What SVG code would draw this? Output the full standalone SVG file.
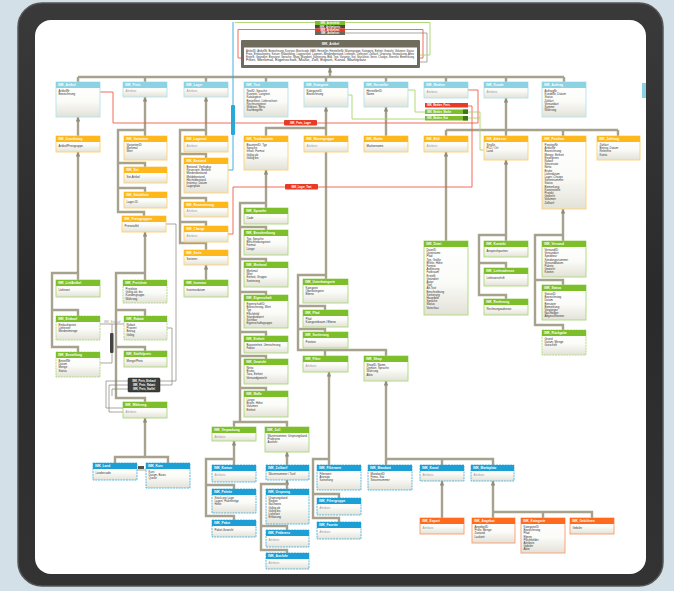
<svg xmlns="http://www.w3.org/2000/svg" width="674" height="591" viewBox="0 0 674 591">
<defs>
<linearGradient id="gr" x1="0" y1="0" x2="0" y2="1"><stop offset="0" stop-color="#ffffff"/><stop offset="0.55" stop-color="#fbfbf8"/><stop offset="1" stop-color="#e3e2d8"/></linearGradient>
<linearGradient id="bz" x1="0" y1="0" x2="0" y2="1"><stop offset="0" stop-color="#3a3a3a"/><stop offset="0.5" stop-color="#2a2a2a"/><stop offset="1" stop-color="#333333"/></linearGradient>
<marker id="ar" viewBox="0 0 6 6" refX="6" refY="3" markerUnits="userSpaceOnUse" markerWidth="4.5" markerHeight="4.5" orient="auto-start-reverse"><path d="M0,0 L6,3 L0,6 z" fill="#8f8b78"/></marker>
<style>
.c{fill:none;stroke:#a6a28e;stroke-width:2.4}
.a{marker-start:url(#ar)}
.k{fill:none;stroke:#85837a;stroke-width:0.7}
.r{fill:none;stroke:#f25c45;stroke-width:0.9}
.gl{fill:none;stroke:#a8d46a;stroke-width:0.9}
.cl{fill:none;stroke:#2aa8dc;stroke-width:0.9}
.b{fill:url(#gr);stroke-width:0.9}
.cy .b{stroke:#b4e2ec}.cy .h{fill:#8bd3e3}
.or .b{stroke:#ffd070}.or .h{fill:#ffb81c}
.gn .b{stroke:#acd878}.gn .h{fill:#7cbf2a}
.bl .b{stroke:#4fb2dc;stroke-dasharray:2 0.8}.bl .h{fill:#1b9fd5}
.rd .b{stroke:#ff9a6a}.rd .h{fill:#ff6a1c}
.t{font-family:"Liberation Sans",Arial,sans-serif;font-size:3.2px;font-weight:bold;fill:#fff}
.l{font-family:"Liberation Sans",Arial,sans-serif;font-size:2.9px;fill:#333}
.g{fill:#9a9a9a}
.p{font-family:"Liberation Sans",Arial,sans-serif;font-size:2.6px;font-weight:bold;fill:#fff}
</style>
</defs>
<rect x="0" y="0" width="674" height="591" fill="#d4e0e7"/>
<rect x="18" y="3" width="645" height="583" rx="24" fill="url(#bz)" stroke="#555" stroke-width="1.5"/>
<rect x="35" y="20" width="611" height="554" rx="16" fill="#ffffff"/>

<g id="connectors">
<path class="c a" d="M330 68 V77"/>
<path class="c" d="M78 77 H564 M78 77 V82 M145 77 V82 M206 77 V82 M266 77 V82 M326 77 V82 M386 77 V82 M446 77 V82 M506 77 V82 M564 77 V82"/>
<path class="c a" d="M78 117 V136"/>
<path class="c a" d="M78 152 V280"/>
<path class="c" d="M78 273 H52 V347 H78 V352 M52 310 H78 V316"/>
<path class="c a" d="M145 97 V136"/>
<path class="c" d="M145 130 H118 V212 H144 V216 M118 163 H145 V167 M118 188 H145 V192"/>
<path class="c a" d="M145 232 V280"/>
<path class="c" d="M145 273 H116 V398 H145 V402 M116 310 H145 V316 M116 347 H145 V351"/>
<path class="c a" d="M145 418 V457"/>
<path class="c" d="M115 463 V457 H168 V463"/>
<path class="c a" d="M206 97 V136"/>
<path class="c" d="M206 130 H180 V243 H206 V250 M180 154 H206 V158 M180 198 H206 V202 M180 222 H206 V226"/>
<path class="c a" d="M206 265 V280"/>
<path class="c a" d="M326 107 V279"/>
<path class="c" d="M326 128 H266 V136"/>
<path class="c a" d="M266 170 V208"/>
<path class="c" d="M266 203 H240 V422 M240 227 H266 V230 M240 259 H266 V262 M240 292 H266 V295 M240 332 H266 V336 M240 356 H266 V359 M240 388 H266 V391 M234 427 V422 H287 V427"/>
<path class="c a" d="M234 441 V465"/>
<path class="c" d="M234 459 H206 V516 H234 V520 M206 485 H234 V489"/>
<path class="c a" d="M287 452 V465"/>
<path class="c a" d="M287 480 V489"/>
<path class="c" d="M287 484 H261 V550 H287 V553 M261 526 H287 V530"/>
<path class="c" d="M326 275 H298 V350 H386 V356 M298 306 H325 V310 M298 329 H325 V332 M325 350 V356"/>
<path class="c a" d="M329 372 V465"/>
<path class="c" d="M329 459 H313 V518 H339 V522 M313 494 H339 V498"/>
<path class="c a" d="M386 381 V465"/>
<path class="c" d="M386 459 H493 V465 M442 459 V465"/>
<path class="c a" d="M442 481 V518"/>
<path class="c a" d="M493 481 V518"/>
<path class="c" d="M493 512 H592 V518 M543 512 V518"/>
<path class="c a" d="M386 107 V136"/>
<path class="c a" d="M446 152 V241"/>
<path class="c a" d="M506 98 V136"/>
<path class="c" d="M446 130 H618 M446 130 V136 M563 130 V136 M618 130 V136"/>
<path class="c a" d="M506 160 V241"/>
<path class="c" d="M506 235 H479 V295 H506 V299 M479 263 H506 V268"/>
<path class="c a" d="M563 209 V241"/>
<path class="c" d="M563 235 H535 V325 H563 V330 M535 280 H563 V285"/>

<path class="r" d="M100 92 H113 V123 H478 V90 H468"/>
<path class="r" d="M228 234 H233 V187 H472 V106 H468"/>
<path class="r" d="M315 29.5 H238 V58 H241 M345 29.5 H423 V58 H420"/>
<path class="k" d="M345 33 H427 V62 H420"/>
<path class="gl" d="M315 22.5 H235 M345 22.5 H430 V55 H420"/>
<path class="gl" d="M348 95 H352 V119 H425"/>
<path class="gl" d="M408 90 H415 V112 H425"/>
<path class="gl" d="M468 112 H480 V150 H484 M468 118 H480"/>
<path class="cl" d="M233 22 V170 H228"/>
<path class="k" d="M100 324 H124 M100 363 H112 V353 M112 333 V324"/>
<path class="k" d="M166 224 H176 V381 H160 M167 328 H172 V385 H160"/>
<path class="k" d="M128 381 H106 V408 H123 M128 385 H109 V412 H123 M128 389 H112 V396"/>
<path class="k" d="M137 470 H146"/>
</g>

<g id="pills">
<rect x="231" y="105" width="4" height="30" rx="1" fill="#2aa8d8"/>
<rect x="284" y="120" width="33" height="5.5" rx="1" fill="#e83a25"/><text class="p" x="300.5" y="123.8" text-anchor="middle">IMK_Preis_Lager</text>
<rect x="285" y="184" width="33" height="5.5" rx="1" fill="#e83a25"/><text class="p" x="301.5" y="187.8" text-anchor="middle">IMK_Lager_Text</text>
<rect x="425" y="103" width="43" height="4.5" fill="#e83a25"/><text class="p" x="427" y="106.2">IMK_Medien_Preis</text>
<rect x="425" y="109.5" width="43" height="4.5" fill="#7cbf2a"/><rect x="463" y="109.5" width="5" height="4.5" fill="#3d7a12"/><text class="p" x="427" y="112.7">IMK_Medien_Marke</text>
<rect x="425" y="116" width="43" height="4.5" fill="#7cbf2a"/><rect x="463" y="116" width="5" height="4.5" fill="#3d7a12"/><text class="p" x="427" y="119.2">IMK_Medien_Kat</text>
<rect x="110" y="333" width="3.5" height="20" rx="1" fill="#444"/>
<text class="l g" x="104" y="323" font-size="2.4px">IMK_Einkauf</text>
<rect x="138" y="466" width="6" height="3" fill="#555"/>
</g>

<g id="nTop">
<rect x="315" y="21" width="30" height="4" fill="#7cbf2a"/><text class="p" x="330" y="24" text-anchor="middle">IMK_Artikelbild</text>
<rect x="315" y="25" width="30" height="3.5" fill="#4a4a40"/><text class="p" x="330" y="27.7" text-anchor="middle">IMK_Artikelpreis</text>
<rect x="315" y="28.5" width="30" height="3.5" fill="#e63a22"/><text class="p" x="330" y="31.2" text-anchor="middle">IMK_Artikeltext</text>
<rect x="315" y="32" width="30" height="3" fill="#6b675a"/><text class="p" x="330" y="34.4" text-anchor="middle">IMK_Artikelset</text>
</g>

<g id="nMain">
<rect x="241" y="40" width="179" height="28" rx="1" fill="#6f6b5d"/>
<text class="t" x="330.5" y="45.2" text-anchor="middle">IMK_Artikel</text>
<rect x="244" y="47.5" width="173" height="17.5" fill="#ffffff"/>
<text class="l" x="246" y="51.5" textLength="168" lengthAdjust="spacingAndGlyphs">ArtikelID, ArtikelNr, Bezeichnung, Kurztext, Matchcode, EAN, Hersteller, HerstellerNr, Warengruppe, Kategorie, Einheit, Gewicht, Volumen, Status</text>
<text class="l" x="246" y="54.8" textLength="168" lengthAdjust="spacingAndGlyphs">Preis, Einkaufspreis, Steuer, Rabattfähig, Lagerartikel, Lagerort, Mindestbestand, Lieferant, Lieferzeit, Zolltarif, Ursprung, Verpackung, Aktiv</text>
<text class="l" x="246" y="58.1" textLength="168" lengthAdjust="spacingAndGlyphs">Erstellt, Geändert, Benutzer, Sprache, Shop, Mandant, Sortierung, Bild, Text, Variante, Set, Stückliste, Serie, Charge, Inventur, Bemerkung</text>
<text class="l" x="246" y="61.4" textLength="120" lengthAdjust="spacingAndGlyphs">Filter, Merkmal, Eigenschaft, Maße, Zoll, Export, Kanal, Marktplatz</text>
</g>

<g id="nA" class="cy"><rect class="b" x="56" y="82" width="44" height="35"/><rect class="h" x="56" y="82" width="44" height="6"/><text class="t" x="58" y="86.4">IMK_Artikel</text><text class="l" x="58.5" y="92">ArtikelNr<tspan x="58.5" dy="3.2">Bezeichnung</tspan></text></g>
<g id="nB" class="cy"><rect class="b" x="123" y="82" width="44" height="15"/><rect class="h" x="123" y="82" width="44" height="6"/><text class="t" x="125" y="86.4">IMK_Preis</text><text class="l g" x="125.5" y="92">Attribute</text></g>
<g id="nC" class="cy"><rect class="b" x="184" y="82" width="44" height="15"/><rect class="h" x="184" y="82" width="44" height="6"/><text class="t" x="186" y="86.4">IMK_Lager</text><text class="l g" x="186.5" y="92">Attribute</text></g>
<g id="nD" class="cy"><rect class="b" x="244" y="82" width="44" height="35"/><rect class="h" x="244" y="82" width="44" height="6"/><text class="t" x="246" y="86.4">IMK_Text</text><text class="l" x="246.5" y="92">TextID, Sprache<tspan x="246.5" dy="3.2">Kurztext, Langtext</tspan><tspan x="246.5" dy="3.2">Katalogtext</tspan><tspan x="246.5" dy="3.2">Bestelltext, Lieferschein</tspan><tspan x="246.5" dy="3.2">Rechnungstext</tspan><tspan x="246.5" dy="3.2">Webtext, Meta</tspan><tspan x="246.5" dy="3.2">Suchbegriffe</tspan></text></g>
<g id="nE" class="cy"><rect class="b" x="304" y="82" width="44" height="25"/><rect class="h" x="304" y="82" width="44" height="6"/><text class="t" x="306" y="86.4">IMK_Kategorie</text><text class="l" x="306.5" y="92">KategorieID<tspan x="306.5" dy="3.2">Bezeichnung</tspan></text></g>
<g id="nF" class="cy"><rect class="b" x="364" y="82" width="44" height="25"/><rect class="h" x="364" y="82" width="44" height="6"/><text class="t" x="366" y="86.4">IMK_Hersteller</text><text class="l" x="366.5" y="92">HerstellerID<tspan x="366.5" dy="3.2">Name</tspan></text></g>
<g id="nG" class="cy"><rect class="b" x="424" y="82" width="44" height="16"/><rect class="h" x="424" y="82" width="44" height="6"/><text class="t" x="426" y="86.4">IMK_Medien</text><text class="l g" x="426.5" y="92.5">Attribute</text></g>
<g id="nH" class="cy"><rect class="b" x="484" y="82" width="44" height="16"/><rect class="h" x="484" y="82" width="44" height="6"/><text class="t" x="486" y="86.4">IMK_Kunde</text><text class="l g" x="486.5" y="92.5">Attribute</text></g>
<g id="nI" class="cy"><rect class="b" x="542" y="82" width="44" height="35"/><rect class="h" x="542" y="82" width="44" height="6"/><text class="t" x="544" y="86.4">IMK_Auftrag</text><text class="l" x="544.5" y="92">AuftragNr<tspan x="544.5" dy="3.2">KundeNr, Datum</tspan><tspan x="544.5" dy="3.2">Status</tspan><tspan x="544.5" dy="3.2">Zahlart</tspan><tspan x="544.5" dy="3.2">Versandart</tspan><tspan x="544.5" dy="3.2">Summe</tspan><tspan x="544.5" dy="3.2">Währung</tspan></text></g>
<g id="nJ" class="cy"><rect class="h" x="642" y="83" width="4" height="15"/></g>

<g id="nA2" class="or"><rect class="b" x="56" y="136" width="44" height="16"/><rect class="h" x="56" y="136" width="44" height="6"/><text class="t" x="58" y="140.4">IMK_Zuordnung</text><text class="l" x="58.5" y="146.5">Artikel/Preisgruppe</text></g>
<g id="nB2" class="or"><rect class="b" x="124" y="136" width="43" height="24"/><rect class="h" x="124" y="136" width="43" height="6"/><text class="t" x="126" y="140.4">IMK_Varianten</text><text class="l" x="126.5" y="146">VariantenID<tspan x="126.5" dy="3.2">Merkmal</tspan><tspan x="126.5" dy="3.2">Wert</tspan></text></g>
<g id="nB3" class="or"><rect class="b" x="124" y="167" width="43" height="16"/><rect class="h" x="124" y="167" width="43" height="6"/><text class="t" x="126" y="171.4">IMK_Set</text><text class="l" x="126.5" y="177.5">Set-Artikel</text></g>
<g id="nB4" class="or"><rect class="b" x="124" y="192" width="43" height="16"/><rect class="h" x="124" y="192" width="43" height="6"/><text class="t" x="126" y="196.4">IMK_Stückliste</text><text class="l" x="126.5" y="202.5">Lager-ID</text></g>
<g id="nB5" class="or"><rect class="b" x="122" y="216" width="44" height="16"/><rect class="h" x="122" y="216" width="44" height="6"/><text class="t" x="124" y="220.4">IMK_Preisgruppen</text><text class="l" x="124.5" y="226.5">Preisstaffel</text></g>
<g id="nC2" class="or"><rect class="b" x="184" y="136" width="44" height="16"/><rect class="h" x="184" y="136" width="44" height="6"/><text class="t" x="186" y="140.4">IMK_Lagerort</text><text class="l g" x="186.5" y="146.5">Attribute</text></g>
<g id="nC3" class="or"><rect class="b" x="184" y="158" width="44" height="35"/><rect class="h" x="184" y="158" width="44" height="6"/><text class="t" x="186" y="162.4">IMK_Bestand</text><text class="l" x="186.5" y="168">Bestand, Verfügbar<tspan x="186.5" dy="3.2">Reserviert, Bestellt</tspan><tspan x="186.5" dy="3.2">Mindestbestand</tspan><tspan x="186.5" dy="3.2">Meldebestand</tspan><tspan x="186.5" dy="3.2">Höchstbestand</tspan><tspan x="186.5" dy="3.2">Inventur, Datum</tspan><tspan x="186.5" dy="3.2">Lagerplatz</tspan></text></g>
<g id="nC4" class="or"><rect class="b" x="184" y="202" width="44" height="15"/><rect class="h" x="184" y="202" width="44" height="6"/><text class="t" x="186" y="206.4">IMK_Reservierung</text><text class="l g" x="186.5" y="212.3">Attribute</text></g>
<g id="nC5" class="or"><rect class="b" x="184" y="226" width="44" height="16"/><rect class="h" x="184" y="226" width="44" height="6"/><text class="t" x="186" y="230.4">IMK_Charge</text><text class="l g" x="186.5" y="236.5">Attribute</text></g>
<g id="nC6" class="or"><rect class="b" x="184" y="250" width="44" height="15"/><rect class="h" x="184" y="250" width="44" height="6"/><text class="t" x="186" y="254.4">IMK_Serie</text><text class="l" x="186.5" y="260.3">Seriennr</text></g>
<g id="nD2" class="or"><rect class="b" x="244" y="136" width="44" height="34"/><rect class="h" x="244" y="136" width="44" height="6"/><text class="t" x="246" y="140.4">IMK_Textbaustein</text><text class="l" x="246.5" y="146">BausteinID, Typ<tspan x="246.5" dy="3.2">Sprache</tspan><tspan x="246.5" dy="3.2">Inhalt, Format</tspan><tspan x="246.5" dy="3.2">Gültig ab</tspan><tspan x="246.5" dy="3.2">Gültig bis</tspan></text></g>
<g id="nE2" class="or"><rect class="b" x="304" y="136" width="44" height="16"/><rect class="h" x="304" y="136" width="44" height="6"/><text class="t" x="306" y="140.4">IMK_Warengruppe</text><text class="l g" x="306.5" y="146.5">Attribute</text></g>
<g id="nF2" class="or"><rect class="b" x="364" y="136" width="44" height="16"/><rect class="h" x="364" y="136" width="44" height="6"/><text class="t" x="366" y="140.4">IMK_Marke</text><text class="l" x="366.5" y="146.5">Markenname</text></g>
<g id="nG2" class="or"><rect class="b" x="424" y="136" width="44" height="16"/><rect class="h" x="424" y="136" width="44" height="6"/><text class="t" x="426" y="140.4">IMK_Bild</text><text class="l g" x="426.5" y="146.5">Attribute</text></g>
<g id="nH2" class="or"><rect class="b" x="484" y="136" width="44" height="24"/><rect class="h" x="484" y="136" width="44" height="6"/><text class="t" x="486" y="140.4">IMK_Adresse</text><text class="l" x="486.5" y="146">Straße<tspan x="486.5" dy="3.2">PLZ / Ort</tspan><tspan x="486.5" dy="3.2">Land</tspan></text></g>
<g id="nI2" class="or"><rect class="b" x="542" y="136" width="44" height="73"/><rect class="h" x="542" y="136" width="44" height="6"/><text class="t" x="544" y="140.4">IMK_Position</text><text class="l" x="544.5" y="146">PositionNr<tspan x="544.5" dy="3.2">ArtikelNr</tspan><tspan x="544.5" dy="3.2">Bezeichnung</tspan><tspan x="544.5" dy="3.2">Menge, Einheit</tspan><tspan x="544.5" dy="3.2">Einzelpreis</tspan><tspan x="544.5" dy="3.2">Rabatt</tspan><tspan x="544.5" dy="3.2">Steuersatz</tspan><tspan x="544.5" dy="3.2">Netto</tspan><tspan x="544.5" dy="3.2">Brutto</tspan><tspan x="544.5" dy="3.2">Lieferdatum</tspan><tspan x="544.5" dy="3.2">Lager, Charge</tspan><tspan x="544.5" dy="3.2">Seriennummer</tspan><tspan x="544.5" dy="3.2">Status</tspan><tspan x="544.5" dy="3.2">Bemerkung</tspan><tspan x="544.5" dy="3.2">Kostenstelle</tspan><tspan x="544.5" dy="3.2">Projekt</tspan><tspan x="544.5" dy="3.2">Gewicht</tspan><tspan x="544.5" dy="3.2">Volumen</tspan><tspan x="544.5" dy="3.2">Zolltarif</tspan></text></g>
<g id="nK2" class="or"><rect class="b" x="597" y="136" width="43" height="24"/><rect class="h" x="597" y="136" width="43" height="6"/><text class="t" x="599" y="140.4">IMK_Zahlung</text><text class="l" x="599.5" y="146">Zahlart<tspan x="599.5" dy="3.2">Betrag, Datum</tspan><tspan x="599.5" dy="3.2">Referenz</tspan><tspan x="599.5" dy="3.2">Konto</tspan></text></g>

<g id="nC7" class="gn"><rect class="b" x="184" y="280" width="44" height="17"/><rect class="h" x="184" y="280" width="44" height="6"/><text class="t" x="186" y="284.4">IMK_Inventur</text><text class="l" x="186.5" y="290.5">Inventurdatum</text></g>
<g id="nD3" class="gn"><rect class="b" x="244" y="208" width="44" height="16"/><rect class="h" x="244" y="208" width="44" height="6"/><text class="t" x="246" y="212.4">IMK_Sprache</text><text class="l" x="246.5" y="218.5">Code</text></g>
<g id="nD4" class="gn"><rect class="b" x="244" y="230" width="44" height="25"/><rect class="h" x="244" y="230" width="44" height="6"/><text class="t" x="246" y="234.4">IMK_Beschreibung</text><text class="l" x="246.5" y="240">Typ, Sprache<tspan x="246.5" dy="3.2">Beschreibungstext</tspan><tspan x="246.5" dy="3.2">Format</tspan><tspan x="246.5" dy="3.2">Länge</tspan></text></g>
<g id="nD5" class="gn"><rect class="b" x="244" y="262" width="44" height="25"/><rect class="h" x="244" y="262" width="44" height="6"/><text class="t" x="246" y="266.4">IMK_Merkmal</text><text class="l" x="246.5" y="272">Merkmal<tspan x="246.5" dy="3.2">Wert</tspan><tspan x="246.5" dy="3.2">Einheit, Gruppe</tspan><tspan x="246.5" dy="3.2">Sortierung</tspan></text></g>
<g id="nD6" class="gn"><rect class="b" x="244" y="295" width="44" height="33"/><rect class="h" x="244" y="295" width="44" height="6"/><text class="t" x="246" y="299.4">IMK_Eigenschaft</text><text class="l" x="246.5" y="305">EigenschaftID<tspan x="246.5" dy="3.2">Bezeichnung, Wert</tspan><tspan x="246.5" dy="3.2">Typ</tspan><tspan x="246.5" dy="3.2">Pflichtfeld</tspan><tspan x="246.5" dy="3.2">Standardwert</tspan><tspan x="246.5" dy="3.2">Sichtbar</tspan><tspan x="246.5" dy="3.2">Eigenschaftsgruppe</tspan></text></g>
<g id="nD7" class="gn"><rect class="b" x="244" y="336" width="44" height="17"/><rect class="h" x="244" y="336" width="44" height="6"/><text class="t" x="246" y="340.4">IMK_Einheit</text><text class="l" x="246.5" y="346">Basiseinheit, Umrechnung<tspan x="246.5" dy="3.2">Faktor</tspan></text></g>
<g id="nD8" class="gn"><rect class="b" x="244" y="359" width="44" height="25"/><rect class="h" x="244" y="359" width="44" height="6"/><text class="t" x="246" y="363.4">IMK_Gewicht</text><text class="l" x="246.5" y="369">Netto<tspan x="246.5" dy="3.2">Brutto</tspan><tspan x="246.5" dy="3.2">Tara, Einheit</tspan><tspan x="246.5" dy="3.2">Versandgewicht</tspan></text></g>
<g id="nD9" class="gn"><rect class="b" x="244" y="391" width="44" height="26"/><rect class="h" x="244" y="391" width="44" height="6"/><text class="t" x="246" y="395.4">IMK_Maße</text><text class="l" x="246.5" y="401">Länge<tspan x="246.5" dy="3.2">Breite, Höhe</tspan><tspan x="246.5" dy="3.2">Volumen</tspan><tspan x="246.5" dy="3.2">Einheit</tspan></text></g>
<g id="nD10" class="gn"><rect class="b" x="212" y="427" width="44" height="14"/><rect class="h" x="212" y="427" width="44" height="6"/><text class="t" x="214" y="431.4">IMK_Verpackung</text><text class="l g" x="214.5" y="437.5">Attribute</text></g>
<g id="nD11" class="gn"><rect class="b" x="265" y="427" width="44" height="25"/><rect class="h" x="265" y="427" width="44" height="6"/><text class="t" x="267" y="431.4">IMK_Zoll</text><text class="l" x="267.5" y="437">Warennummer, Ursprungsland<tspan x="267.5" dy="3.2">Präferenz</tspan><tspan x="267.5" dy="3.2">Ausfuhr</tspan></text></g>
<g id="nE3" class="gn"><rect class="b" x="303" y="279" width="45" height="24"/><rect class="h" x="303" y="279" width="45" height="6"/><text class="t" x="305" y="283.4">IMK_Unterkategorie</text><text class="l" x="305.5" y="289">Kategorie<tspan x="305.5" dy="3.2">Oberkategorie</tspan><tspan x="305.5" dy="3.2">Ebene</tspan></text></g>
<g id="nE4" class="gn"><rect class="b" x="303" y="310" width="45" height="17"/><rect class="h" x="303" y="310" width="45" height="6"/><text class="t" x="305" y="314.4">IMK_Pfad</text><text class="l" x="305.5" y="320">Pfad<tspan x="305.5" dy="3.2">Kategoriebaum / Ebene</tspan></text></g>
<g id="nE5" class="gn"><rect class="b" x="303" y="332" width="45" height="16"/><rect class="h" x="303" y="332" width="45" height="6"/><text class="t" x="305" y="336.4">IMK_Sortierung</text><text class="l" x="305.5" y="342.5">Position</text></g>
<g id="nE6" class="gn"><rect class="b" x="303" y="356" width="45" height="16"/><rect class="h" x="303" y="356" width="45" height="6"/><text class="t" x="305" y="360.4">IMK_Filter</text><text class="l g" x="305.5" y="366.5">Attribute</text></g>
<g id="nE7" class="gn"><rect class="b" x="364" y="356" width="44" height="25"/><rect class="h" x="364" y="356" width="44" height="6"/><text class="t" x="366" y="360.4">IMK_Shop</text><text class="l" x="366.5" y="366">ShopID, Name<tspan x="366.5" dy="3.2">Domain, Sprache</tspan><tspan x="366.5" dy="3.2">Währung</tspan><tspan x="366.5" dy="3.2">Aktiv</tspan></text></g>
<g id="nG3" class="gn"><rect class="b" x="424" y="241" width="44" height="74"/><rect class="h" x="424" y="241" width="44" height="6"/><text class="t" x="426" y="245.4">IMK_Datei</text><text class="l" x="426.5" y="251">DateiID<tspan x="426.5" dy="3.2">Dateiname</tspan><tspan x="426.5" dy="3.2">Pfad</tspan><tspan x="426.5" dy="3.2">Typ, Größe</tspan><tspan x="426.5" dy="3.2">Breite, Höhe</tspan><tspan x="426.5" dy="3.2">Format</tspan><tspan x="426.5" dy="3.2">Auflösung</tspan><tspan x="426.5" dy="3.2">Farbraum</tspan><tspan x="426.5" dy="3.2">Erstellt</tspan><tspan x="426.5" dy="3.2">Geändert</tspan><tspan x="426.5" dy="3.2">Autor</tspan><tspan x="426.5" dy="3.2">Titel</tspan><tspan x="426.5" dy="3.2">Alt-Text</tspan><tspan x="426.5" dy="3.2">Beschreibung</tspan><tspan x="426.5" dy="3.2">Sortierung</tspan><tspan x="426.5" dy="3.2">Hauptbild</tspan><tspan x="426.5" dy="3.2">Sprache</tspan><tspan x="426.5" dy="3.2">Status</tspan><tspan x="426.5" dy="3.2">Vorschau</tspan></text></g>
<g id="nH3" class="gn"><rect class="b" x="484" y="241" width="44" height="16"/><rect class="h" x="484" y="241" width="44" height="6"/><text class="t" x="486" y="245.4">IMK_Kontakt</text><text class="l" x="486.5" y="251.5">Ansprechpartner</text></g>
<g id="nH4" class="gn"><rect class="b" x="484" y="268" width="44" height="18"/><rect class="h" x="484" y="268" width="44" height="6"/><text class="t" x="486" y="272.4">IMK_Lieferadresse</text><text class="l" x="486.5" y="279">Lieferanschrift</text></g>
<g id="nH5" class="gn"><rect class="b" x="484" y="299" width="44" height="16"/><rect class="h" x="484" y="299" width="44" height="6"/><text class="t" x="486" y="303.4">IMK_Rechnung</text><text class="l" x="486.5" y="309.5">Rechnungsadresse</text></g>
<g id="nI3" class="gn"><rect class="b" x="542" y="241" width="44" height="36"/><rect class="h" x="542" y="241" width="44" height="6"/><text class="t" x="544" y="245.4">IMK_Versand</text><text class="l" x="544.5" y="251">VersandID<tspan x="544.5" dy="3.2">Versandart</tspan><tspan x="544.5" dy="3.2">Spediteur</tspan><tspan x="544.5" dy="3.2">Sendungsnummer</tspan><tspan x="544.5" dy="3.2">Versanddatum</tspan><tspan x="544.5" dy="3.2">Pakete</tspan><tspan x="544.5" dy="3.2">Gewicht</tspan><tspan x="544.5" dy="3.2">Kosten</tspan></text></g>
<g id="nI4" class="gn"><rect class="b" x="542" y="285" width="44" height="35"/><rect class="h" x="542" y="285" width="44" height="6"/><text class="t" x="544" y="289.4">IMK_Status</text><text class="l" x="544.5" y="295">StatusID<tspan x="544.5" dy="3.2">Bezeichnung</tspan><tspan x="544.5" dy="3.2">Datum</tspan><tspan x="544.5" dy="3.2">Benutzer</tspan><tspan x="544.5" dy="3.2">Bemerkung</tspan><tspan x="544.5" dy="3.2">Vorgänger</tspan><tspan x="544.5" dy="3.2">Nachfolger</tspan><tspan x="544.5" dy="3.2">Abgeschlossen</tspan></text></g>
<g id="nI5" class="gn"><rect class="b" x="542" y="330" width="44" height="25" stroke-dasharray="2 0.8"/><rect class="h" x="542" y="330" width="44" height="6"/><text class="t" x="544" y="334.4">IMK_Rückgabe</text><text class="l" x="544.5" y="340">Grund<tspan x="544.5" dy="3.2">Datum, Menge</tspan><tspan x="544.5" dy="3.2">Gutschrift</tspan></text></g>
<g id="nA3" class="gn"><rect class="b" x="56" y="280" width="44" height="17"/><rect class="h" x="56" y="280" width="44" height="6"/><text class="t" x="58" y="284.4">IMK_LiefArtikel</text><text class="l" x="58.5" y="290.5">Lieferant</text></g>
<g id="nA4" class="gn"><rect class="b" x="56" y="316" width="44" height="24" stroke-dasharray="2 0.8"/><rect class="h" x="56" y="316" width="44" height="6"/><text class="t" x="58" y="320.4">IMK_Einkauf</text><text class="l" x="58.5" y="326">Einkaufspreis<tspan x="58.5" dy="3.2">Lieferzeit</tspan><tspan x="58.5" dy="3.2">Mindestmenge</tspan></text></g>
<g id="nA5" class="gn"><rect class="b" x="56" y="352" width="44" height="25" stroke-dasharray="2 0.8"/><rect class="h" x="56" y="352" width="44" height="6"/><text class="t" x="58" y="356.4">IMK_Bestellung</text><text class="l" x="58.5" y="362">BestellNr<tspan x="58.5" dy="3.2">Datum</tspan><tspan x="58.5" dy="3.2">Menge</tspan><tspan x="58.5" dy="3.2">Status</tspan></text></g>
<g id="nB6" class="gn"><rect class="b" x="123" y="280" width="44" height="23" stroke-dasharray="2 0.8"/><rect class="h" x="123" y="280" width="44" height="6"/><text class="t" x="125" y="284.4">IMK_Preisliste</text><text class="l" x="125.5" y="290">Preisliste<tspan x="125.5" dy="3.2">Gültig ab, bis</tspan><tspan x="125.5" dy="3.2">Kundengruppe</tspan><tspan x="125.5" dy="3.2">Währung</tspan></text></g>
<g id="nB7" class="gn"><rect class="b" x="124" y="316" width="43" height="24" stroke-dasharray="2 0.8"/><rect class="h" x="124" y="316" width="43" height="6"/><text class="t" x="126" y="320.4">IMK_Rabatt</text><text class="l" x="126.5" y="326">Rabatt<tspan x="126.5" dy="3.2">Prozent</tspan><tspan x="126.5" dy="3.2">Betrag</tspan><tspan x="126.5" dy="3.2">Gültig</tspan></text></g>
<g id="nB8" class="gn"><rect class="b" x="124" y="351" width="43" height="16"/><rect class="h" x="124" y="351" width="43" height="6"/><text class="t" x="126" y="355.4">IMK_Staffelpreis</text><text class="l" x="126.5" y="361.5">Menge/Preis</text></g>
<g id="nB9" class="gn"><rect class="b" x="123" y="402" width="44" height="16"/><rect class="h" x="123" y="402" width="44" height="6"/><text class="t" x="125" y="406.4">IMK_Währung</text><text class="l g" x="125.5" y="412.5">Attribute</text></g>

<g id="junction">
<rect x="128" y="378" width="32" height="14" rx="1" fill="#3d3d3a" stroke="#222" stroke-width="0.5"/>
<text class="p" x="144" y="381.6" text-anchor="middle">IMK_Preis_Einkauf</text>
<text class="p" x="144" y="385.6" text-anchor="middle">IMK_Preis_Rabatt</text>
<text class="p" x="144" y="389.6" text-anchor="middle">IMK_Preis_Staffel</text>
</g>

<g id="nL1" class="bl"><rect class="b" x="93" y="463" width="44" height="17"/><rect class="h" x="93" y="463" width="44" height="6"/><text class="t" x="95" y="467.4">IMK_Land</text><text class="l" x="95.5" y="473.5">Ländercode</text></g>
<g id="nL2" class="bl"><rect class="b" x="146" y="463" width="44" height="25"/><rect class="h" x="146" y="463" width="44" height="6"/><text class="t" x="148" y="467.4">IMK_Kurs</text><text class="l" x="148.5" y="473">Kurs<tspan x="148.5" dy="3.2">Datum, Basis</tspan><tspan x="148.5" dy="3.2">Quelle</tspan></text></g>
<g id="nD10a" class="bl"><rect class="b" x="212" y="465" width="44" height="17"/><rect class="h" x="212" y="465" width="44" height="6"/><text class="t" x="214" y="469.4">IMK_Karton</text><text class="l g" x="214.5" y="475.5">Attribute</text></g>
<g id="nD10b" class="bl"><rect class="b" x="212" y="489" width="44" height="24"/><rect class="h" x="212" y="489" width="44" height="6"/><text class="t" x="214" y="493.4">IMK_Palette</text><text class="l" x="214.5" y="499">Stück pro Lage<tspan x="214.5" dy="3.2">Lagen, Palettentyp</tspan><tspan x="214.5" dy="3.2">Höhe</tspan></text></g>
<g id="nD10c" class="bl"><rect class="b" x="212" y="520" width="44" height="17"/><rect class="h" x="212" y="520" width="44" height="6"/><text class="t" x="214" y="524.4">IMK_Paket</text><text class="l" x="214.5" y="530.5">Paket-Gewicht</text></g>
<g id="nD11a" class="bl"><rect class="b" x="266" y="465" width="43" height="15"/><rect class="h" x="266" y="465" width="43" height="6"/><text class="t" x="268" y="469.4">IMK_Zolltarif</text><text class="l" x="268.5" y="475.3">Warennummer / Tarif</text></g>
<g id="nD11b" class="bl"><rect class="b" x="266" y="489" width="43" height="35"/><rect class="h" x="266" y="489" width="43" height="6"/><text class="t" x="268" y="493.4">IMK_Ursprung</text><text class="l" x="268.5" y="499">Ursprungsland<tspan x="268.5" dy="3.2">Region</tspan><tspan x="268.5" dy="3.2">Nachweis</tspan><tspan x="268.5" dy="3.2">Gültig ab</tspan><tspan x="268.5" dy="3.2">Gültig bis</tspan><tspan x="268.5" dy="3.2">Lieferant</tspan><tspan x="268.5" dy="3.2">Erklärung</tspan></text></g>
<g id="nD11c" class="bl"><rect class="b" x="266" y="530" width="43" height="17"/><rect class="h" x="266" y="530" width="43" height="6"/><text class="t" x="268" y="534.4">IMK_Präferenz</text><text class="l g" x="268.5" y="540.5">Attribute</text></g>
<g id="nD11d" class="bl"><rect class="b" x="266" y="553" width="43" height="16"/><rect class="h" x="266" y="553" width="43" height="6"/><text class="t" x="268" y="557.4">IMK_Ausfuhr</text><text class="l g" x="268.5" y="563.5">Attribute</text></g>
<g id="nE6a" class="bl"><rect class="b" x="317" y="465" width="44" height="25"/><rect class="h" x="317" y="465" width="44" height="6"/><text class="t" x="319" y="469.4">IMK_Filterwert</text><text class="l" x="319.5" y="475">Filterwert<tspan x="319.5" dy="3.2">Anzeige</tspan><tspan x="319.5" dy="3.2">Sortierung</tspan></text></g>
<g id="nE6b" class="bl"><rect class="b" x="317" y="498" width="44" height="17"/><rect class="h" x="317" y="498" width="44" height="6"/><text class="t" x="319" y="502.4">IMK_Filtergruppe</text><text class="l g" x="319.5" y="508.5">Attribute</text></g>
<g id="nE6c" class="bl"><rect class="b" x="317" y="522" width="44" height="17"/><rect class="h" x="317" y="522" width="44" height="6"/><text class="t" x="319" y="526.4">IMK_Facette</text><text class="l g" x="319.5" y="532.5">Attribute</text></g>
<g id="nE7a" class="bl"><rect class="b" x="368" y="465" width="44" height="25"/><rect class="h" x="368" y="465" width="44" height="6"/><text class="t" x="370" y="469.4">IMK_Mandant</text><text class="l" x="370.5" y="475">MandantID<tspan x="370.5" dy="3.2">Firma, Sitz</tspan><tspan x="370.5" dy="3.2">Steuernummer</tspan></text></g>
<g id="nE8" class="bl"><rect class="b" x="420" y="465" width="44" height="16"/><rect class="h" x="420" y="465" width="44" height="6"/><text class="t" x="422" y="469.4">IMK_Kanal</text><text class="l g" x="422.5" y="475.5">Attribute</text></g>
<g id="nE9" class="bl"><rect class="b" x="471" y="465" width="43" height="16"/><rect class="h" x="471" y="465" width="43" height="6"/><text class="t" x="473" y="469.4">IMK_Marktplatz</text><text class="l g" x="473.5" y="475.5">Attribute</text></g>

<g id="nE8a" class="rd"><rect class="b" x="420" y="518" width="44" height="16"/><rect class="h" x="420" y="518" width="44" height="6"/><text class="t" x="422" y="522.4">IMK_Export</text><text class="l g" x="422.5" y="528.5">Attribute</text></g>
<g id="nE9a" class="rd"><rect class="b" x="472" y="518" width="43" height="25"/><rect class="h" x="472" y="518" width="43" height="6"/><text class="t" x="474" y="522.4">IMK_Angebot</text><text class="l" x="474.5" y="528">AngebotID<tspan x="474.5" dy="3.2">Preis, Menge</tspan><tspan x="474.5" dy="3.2">Zustand</tspan><tspan x="474.5" dy="3.2">Laufzeit</tspan></text></g>
<g id="nE9b" class="rd"><rect class="b" x="521" y="518" width="44" height="35"/><rect class="h" x="521" y="518" width="44" height="6"/><text class="t" x="523" y="522.4">IMK_Kategorie</text><text class="l" x="523.5" y="528">KategorieID<tspan x="523.5" dy="3.2">Bezeichnung</tspan><tspan x="523.5" dy="3.2">Pfad</tspan><tspan x="523.5" dy="3.2">Ebene</tspan><tspan x="523.5" dy="3.2">Pflichtfelder</tspan><tspan x="523.5" dy="3.2">Attribute</tspan><tspan x="523.5" dy="3.2">Gebühr</tspan><tspan x="523.5" dy="3.2">Aktiv</tspan></text></g>
<g id="nE9c" class="rd"><rect class="b" x="570" y="518" width="44" height="16"/><rect class="h" x="570" y="518" width="44" height="6"/><text class="t" x="572" y="522.4">IMK_Gebühren</text><text class="l" x="572.5" y="528.5">Gebühr</text></g>
</svg>
